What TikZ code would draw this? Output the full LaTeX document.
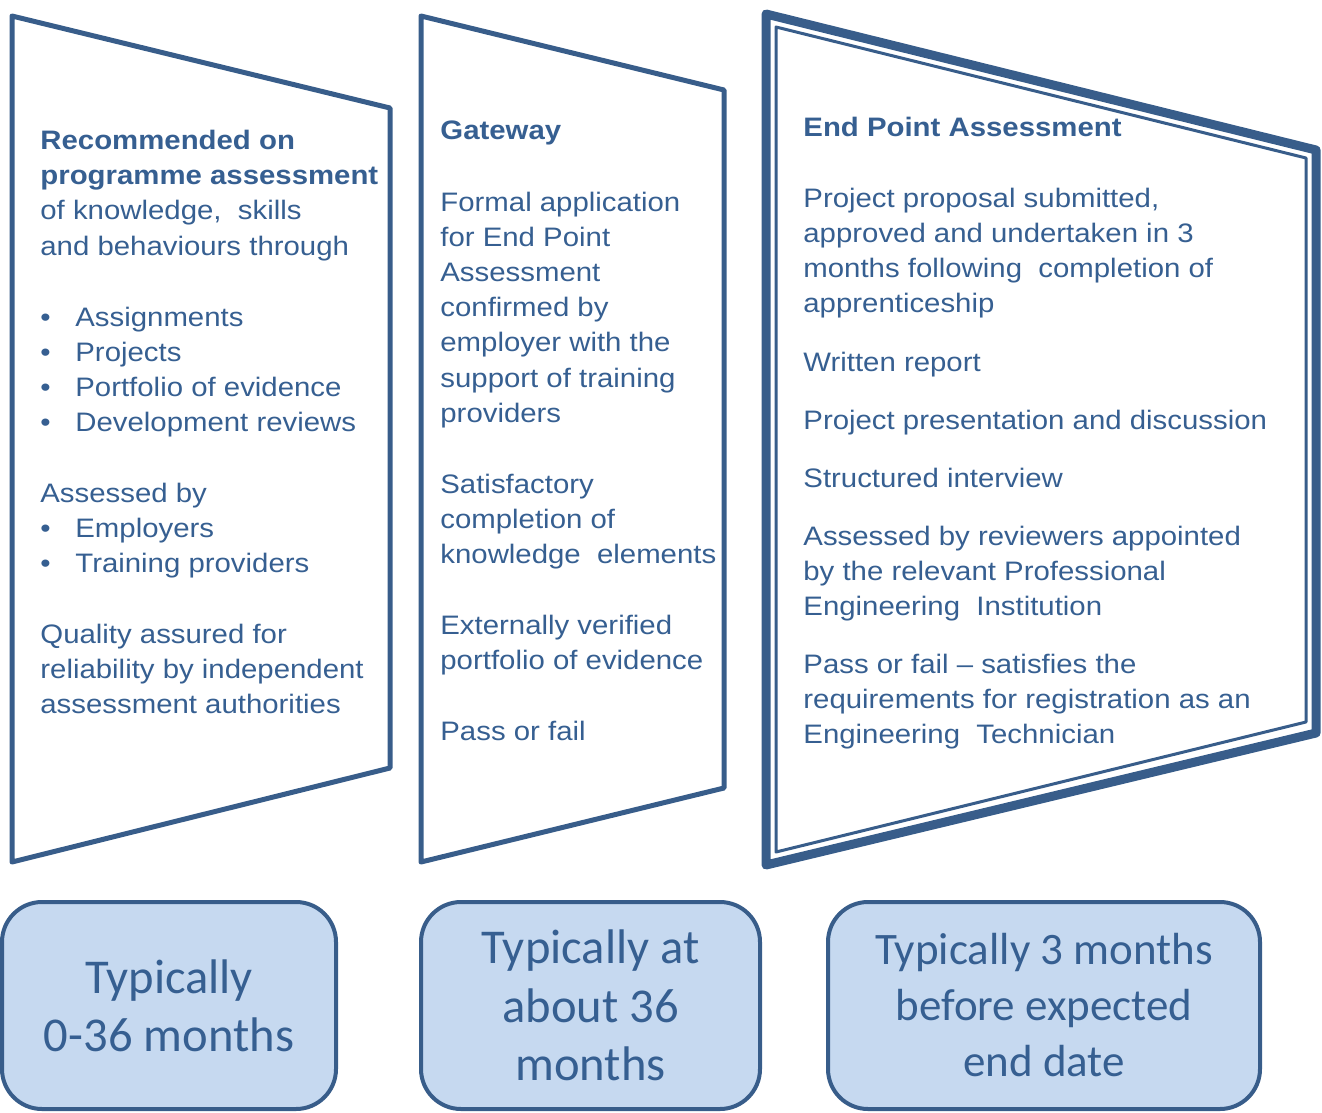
\documentclass[tikz,border=0pt]{standalone}
\usepackage{fontspec}
\setmainfont{Liberation Sans}[FakeStretch=1.1]
\newfontfamily\boxfont{Carlito}

\definecolor{panelblue}{HTML}{385D8A}
\definecolor{textblue}{HTML}{365F91}
\definecolor{boxfill}{HTML}{C6D9F0}

\newcommand\itm{\makebox[17.5pt][l]{\textbullet}}

\tikzset{
    panel/.style = {draw=panelblue, line width=2.5pt, line join=round},
    ptext/.style = {anchor=base west, inner sep=0pt, align=left, text=textblue,
        font=\fontsize{13.35}{17.6}\selectfont},
    timebox/.style = {draw=panelblue, line width=2pt, fill=boxfill, rounded corners=20pt,
        text=textblue, align=center, font=\boxfont\fontsize{24.3}{29.2}\selectfont}
}

\begin{document}
\begin{tikzpicture}[x=0.5pt, y=-0.5pt]

    \useasboundingbox (0,0) rectangle (1322,1113);

    \draw[panel] (12,16) -- (390,108) -- (390,768) -- (12,862) -- cycle;
    \draw[panel] (421,16) -- (724,90) -- (724,788) -- (421,862) -- cycle;
    \draw[panel, line width=4.5pt] (766,14) -- (1316,150) -- (1316,733) -- (766,865) -- cycle;
    \draw[panel, line width=1.5pt] (776,27) -- (1306,158) -- (1306,722) -- (776,852) -- cycle;

    \node[ptext] (onprog) at (40,255) {\textbf{Recommended on}\\\textbf{programme assessment}\\of knowledge,\ \ skills\\and behaviours through};
    \node[ptext] (methods) at (40,431.6) {\itm Assignments\\\itm Projects\\\itm Portfolio of evidence\\\itm Development reviews};
    \node[ptext] (assessors) at (40,572.4) {Assessed by\\\itm Employers\\\itm Training providers};
    \node[ptext] (quality) at (40,713.4) {Quality assured for\\reliability by independent\\assessment authorities};

    \node[ptext] (gateway) at (440,140) {\textbf{Gateway}};
    \node[ptext] (application) at (440,422.2) {Formal application\\for End Point\\Assessment\\confirmed by\\employer with the\\support of training\\providers};
    \node[ptext] (knowledge) at (440,563.4) {Satisfactory\\completion of\\knowledge\ \ elements};
    \node[ptext] (verified) at (440,669.2) {Externally verified\\portfolio of evidence};
    \node[ptext] (gatepass) at (440,740) {Pass or fail};

    \node[ptext] (epa) at (803,137) {\textbf{End Point Assessment}};
    \node[ptext] (proposal) at (803,312.6) {Project proposal submitted,\\approved and undertaken in 3\\months following\ \ completion of\\apprenticeship};
    \node[ptext] (report) at (803,371) {Written report};
    \node[ptext] (presentation) at (803,429) {Project presentation and discussion};
    \node[ptext] (interview) at (803,487) {Structured interview};
    \node[ptext] (reviewers) at (803,615.4) {Assessed by reviewers appointed\\by the relevant Professional\\Engineering\ \ Institution};
    \node[ptext] (epapass) at (803,743.4) {Pass or fail -- satisfies the\\requirements for registration as an\\Engineering\ \ Technician};

    \node[timebox, minimum width=167pt, minimum height=103.5pt] (onprogtime) at (169,1005.5) {Typically\\0-36 months};
    \node[timebox, minimum width=169.5pt, minimum height=103.5pt] (gatewaytime) at (590.5,1005.5) {Typically at\\about 36\\months};
    \node[timebox, minimum width=216pt, minimum height=103.5pt,
        font=\boxfont\fontsize{22.5}{28}\selectfont] (epatime) at (1044,1005.5) {Typically 3 months\\before expected\\end date};

\end{tikzpicture}
\end{document}
